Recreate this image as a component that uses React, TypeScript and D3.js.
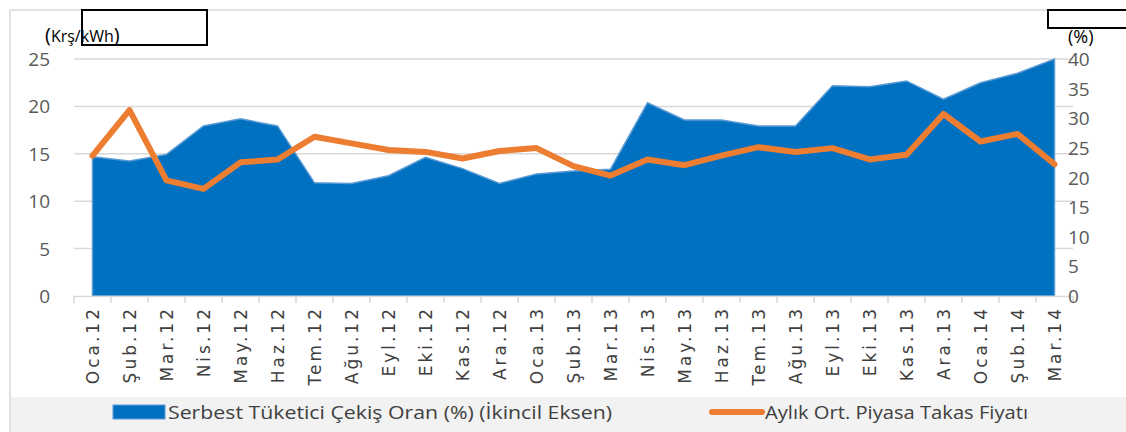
import * as d3 from "d3";
import { useEffect, useRef } from "react";

const categories = [
    "Oca.12", "Şub.12", "Mar.12", "Nis.12", "May.12", "Haz.12", "Tem.12", "Ağu.12", "Eyl.12",
    "Eki.12", "Kas.12", "Ara.12", "Oca.13", "Şub.13", "Mar.13", "Nis.13", "May.13", "Haz.13",
    "Tem.13", "Ağu.13", "Eyl.13", "Eki.13", "Kas.13", "Ara.13", "Oca.14", "Şub.14", "Mar.14",
];

// Serbest Tüketici Çekiş Oranı (%) - secondary axis
const serbestOran = [
    23.5, 22.8, 23.9, 28.7, 29.9, 28.7, 19.1, 19.0, 20.3, 23.4, 21.5, 19.0, 20.6, 21.1,
    21.4, 32.6, 29.7, 29.7, 28.7, 28.7, 35.5, 35.3, 36.3, 33.2, 36.0, 37.6, 40.0,
];

// Aylık Ort. Piyasa Takas Fiyatı (Krş/kWh)
const takasFiyati = [
    14.8, 19.6, 12.2, 11.3, 14.1, 14.4, 16.8, 16.1, 15.4, 15.2, 14.5, 15.3, 15.6, 13.7,
    12.7, 14.4, 13.8, 14.8, 15.7, 15.2, 15.6, 14.4, 14.9, 19.2, 16.3, 17.1, 13.9,
];

const leftTicks = [0, 5, 10, 15, 20, 25];
const rightTicks = [0, 5, 10, 15, 20, 25, 30, 35, 40];

const areaLabel = "Serbest Tüketici Çekiş Oran (%) (İkincil Eksen)";
const lineLabel = "Aylık Ort. Piyasa Takas Fiyatı";

const W = 1126;
const H = 432;
const plotLeft = 74;
const plotRight = 1073;
const plotTop = 59;
const plotBottom = 296;

export default function App() {
    const svgRef = useRef<SVGSVGElement>(null);

    useEffect(() => {
        if (svgRef.current) drawChart();
    }, [svgRef]);

    const drawChart = () => {
        const svg = d3.select(svgRef.current);
        svg.selectAll("*").remove();

        const x = d3.scaleBand().domain(categories).range([plotLeft, plotRight]);
        const cx = (c: string) => (x(c) as number) + x.bandwidth() / 2;
        const yL = d3.scaleLinear().domain([0, 25]).range([plotBottom, plotTop]);
        const yR = d3.scaleLinear().domain([0, 40]).range([plotBottom, plotTop]);

        // outer chart frame
        svg.append("rect")
            .attr("x", 10).attr("y", 10)
            .attr("width", W).attr("height", H)
            .attr("fill", "#ffffff")
            .attr("stroke", "#d9d9d9")
            .attr("stroke-width", 1.5);

        // legend band
        svg.append("rect")
            .attr("x", 11).attr("y", 397)
            .attr("width", W).attr("height", 40)
            .attr("fill", "#f2f2f2");

        // grid lines
        svg.append("g")
            .selectAll("line")
            .data(leftTicks.slice(1))
            .join("line")
            .attr("x1", plotLeft).attr("x2", plotRight)
            .attr("y1", (d) => yL(d)).attr("y2", (d) => yL(d))
            .attr("stroke", "#d9d9d9")
            .attr("stroke-width", 1.5);

        // area (secondary axis)
        const area = d3.area<number>()
            .x((_, i) => cx(categories[i]))
            .y0(yR(0))
            .y1((d) => yR(d));
        svg.append("path")
            .datum(serbestOran)
            .attr("d", area)
            .attr("fill", "#0070c0")
            .attr("stroke", "#5b9bd5")
            .attr("stroke-width", 1.5);

        // x axis
        const xAxis = svg.append("g")
            .attr("transform", `translate(0,${plotBottom})`)
            .call(d3.axisBottom(x).tickSize(0).tickFormat(() => ""));
        xAxis.select(".domain").attr("stroke", "#d9d9d9").attr("stroke-width", 1.5);
        svg.append("g")
            .selectAll("line")
            .data(d3.range(categories.length + 1))
            .join("line")
            .attr("x1", (i) => plotLeft + i * x.step()).attr("x2", (i) => plotLeft + i * x.step())
            .attr("y1", plotBottom).attr("y2", plotBottom + 7)
            .attr("stroke", "#d9d9d9")
            .attr("stroke-width", 1.5);

        svg.append("g")
            .selectAll("text")
            .data(categories)
            .join("text")
            .attr("transform", (d) => `translate(${cx(d) + 6},${plotBottom + 10}) rotate(-90)`)
            .attr("text-anchor", "end")
            .attr("font-family", "DejaVu Sans")
            .attr("font-size", 17)
            .attr("letter-spacing", 3)
            .attr("fill", "#404040")
            .text((d) => d);

        // line (primary axis)
        const line = d3.line<number>()
            .x((_, i) => cx(categories[i]))
            .y((d) => yL(d));
        svg.append("path")
            .datum(takasFiyati)
            .attr("d", line)
            .attr("fill", "none")
            .attr("stroke", "#ed7d31")
            .attr("stroke-width", 6)
            .attr("stroke-linejoin", "round")
            .attr("stroke-linecap", "round");

        // left axis labels
        svg.append("g")
            .selectAll("text")
            .data(leftTicks)
            .join("text")
            .attr("x", 50)
            .attr("y", (d) => yL(d) + 7)
            .attr("text-anchor", "end")
            .attr("font-family", "Open Sans")
            .attr("font-size", 19)
            .attr("fill", "#595959")
            .text((d) => d);

        // right axis labels
        svg.append("g")
            .selectAll("text")
            .data(rightTicks)
            .join("text")
            .attr("x", 1068)
            .attr("y", (d) => yR(d) + 7)
            .attr("font-family", "Open Sans")
            .attr("font-size", 19)
            .attr("fill", "#595959")
            .text((d) => d);

        // unit boxes
        svg.append("rect")
            .attr("x", 82).attr("y", 10).attr("width", 125).attr("height", 35)
            .attr("fill", "none").attr("stroke", "#000").attr("stroke-width", 2);
        svg.append("rect")
            .attr("x", 1048).attr("y", 10).attr("width", 80).attr("height", 18)
            .attr("fill", "none").attr("stroke", "#000").attr("stroke-width", 2);

        const unitL = svg.append("text")
            .attr("x", 45).attr("y", 42)
            .attr("font-family", "Open Sans")
            .attr("fill", "#000");
        unitL.append("tspan").attr("font-size", 20).text("(");
        unitL.append("tspan").attr("font-size", 16).text("Krş/kWh");
        unitL.append("tspan").attr("font-size", 20).text(")");

        svg.append("text")
            .attr("x", 1068).attr("y", 43)
            .attr("font-family", "Open Sans")
            .attr("font-size", 18)
            .attr("fill", "#000")
            .text("(%)");

        // legend
        svg.append("rect")
            .attr("x", 113).attr("y", 405).attr("width", 52).attr("height", 14)
            .attr("fill", "#0070c0").attr("stroke", "#5b9bd5");
        svg.append("text")
            .attr("x", 168).attr("y", 419)
            .attr("font-family", "Open Sans")
            .attr("font-size", 18)
            .attr("fill", "#404040")
            .attr("textLength", 444)
            .attr("lengthAdjust", "spacingAndGlyphs")
            .text(areaLabel);
        svg.append("line")
            .attr("x1", 712).attr("x2", 762).attr("y1", 412).attr("y2", 412)
            .attr("stroke", "#ed7d31").attr("stroke-width", 6).attr("stroke-linecap", "round");
        svg.append("text")
            .attr("x", 765).attr("y", 419)
            .attr("font-family", "Open Sans")
            .attr("font-size", 18)
            .attr("fill", "#404040")
            .attr("textLength", 263)
            .attr("lengthAdjust", "spacingAndGlyphs")
            .text(lineLabel);
    };

    return (
        <svg
            ref={svgRef}
            width={W}
            height={H}
            style={{ position: "absolute", left: 0, top: 0, display: "block" }}
        />
    );
}
